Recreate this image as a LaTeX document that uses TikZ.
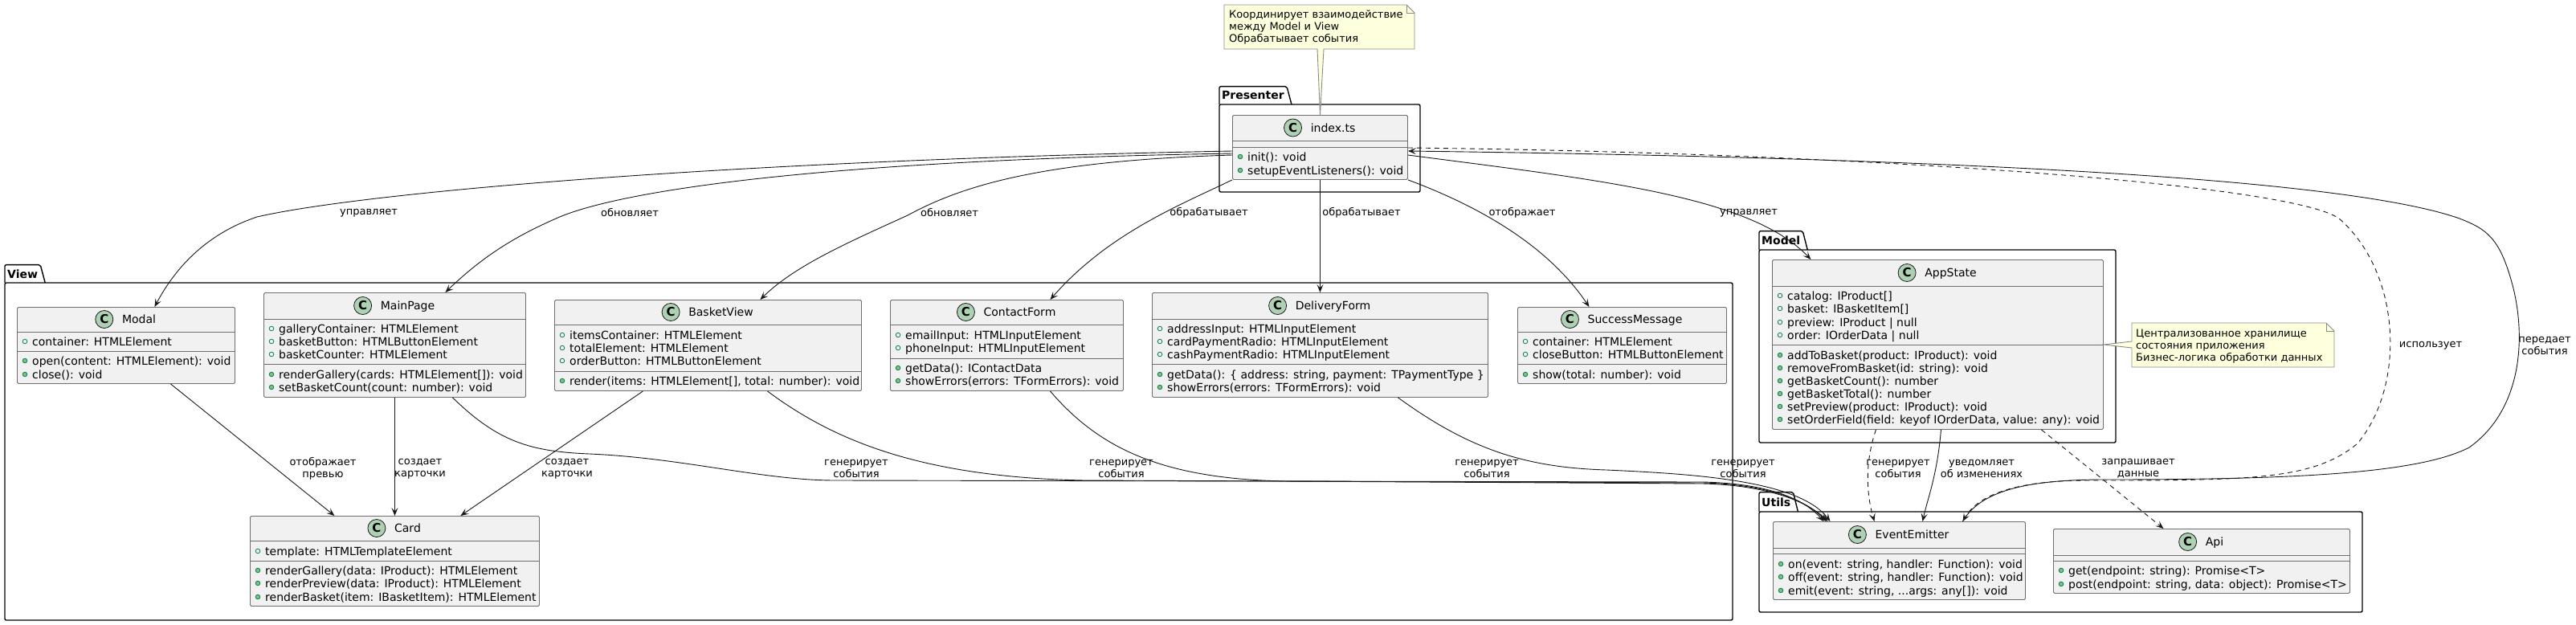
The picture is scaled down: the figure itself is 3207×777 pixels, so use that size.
\documentclass[tikz,border=0pt]{standalone}
\usepackage{fontspec}
\setmainfont{DejaVu Sans}
\usetikzlibrary{arrows.meta,calc}

\definecolor{classfill}{HTML}{F1F1F1}
\definecolor{classline}{HTML}{6E6E6E}
\definecolor{cfill}{HTML}{ADD1B2}
\definecolor{visline}{HTML}{038048}
\definecolor{visfill}{HTML}{84BE84}
\definecolor{notefill}{HTML}{FEFFDD}
\definecolor{noteline}{HTML}{8A8A8A}
\definecolor{edgecol}{HTML}{181818}

\tikzset{
  classbox/.style={draw=classline, fill=classfill, line width=0.9pt, rounded corners=1.5pt, inner sep=0pt},
  sepline/.style={draw=classline, line width=0.9pt},
  classtitle/.style={anchor=base, inner sep=0pt, font=\fontsize{14}{16}\selectfont},
  cicon/.style={circle, draw=edgecol, line width=0.8pt, fill=cfill, minimum size=22pt, inner sep=0pt, font=\fontsize{15}{15}\selectfont\bfseries},
  member/.style={anchor=base west, inner sep=0pt, font=\fontsize{14}{16}\selectfont},
  fldicon/.style={draw=visline, line width=0.8pt},
  mthicon/.style={draw=visline, fill=visfill, line width=0.8pt},
  pkglabel/.style={inner xsep=3pt, inner ysep=0pt, font=\fontsize{14}{16}\selectfont\bfseries},
  pkgline/.style={draw=black, line width=1.4pt, rounded corners=2pt},
  notebox/.style={draw=noteline, fill=notefill, line width=0.9pt},
  notetext/.style={anchor=base west, inner sep=0pt, font=\fontsize{13}{15}\selectfont},
  lbl/.style={inner sep=0pt, align=center, font=\fontsize{13}{15}\selectfont},
  edge/.style={draw=edgecol, line width=0.9pt, -{Stealth[length=10pt,width=8pt,inset=4.5pt]}},
  dsh/.style={dash pattern=on 6pt off 5pt}
}

\newcount\mcnt
\newcommand\fld[3]{\global\advance\mcnt by 1
  \draw[fldicon] (#1+10,#2) circle[radius=2.8pt];
  \node[member] (m\the\mcnt) at (#1+19,#2+5) {#3};}
\newcommand\mth[3]{\global\advance\mcnt by 1
  \draw[mthicon] (#1+10,#2) circle[radius=2.8pt];
  \node[member] (m\the\mcnt) at (#1+19,#2+5) {#3};}
\newcommand\umlclass[8]{%
  \node[classbox, anchor=north west, minimum width={#4-#2}, minimum height={#5-#3}] (#1) at (#2,#3) {};
  \draw[sepline] (#2,#7) -- (#4,#7);
  \draw[sepline] (#2,#8) -- (#4,#8);
  \node[classtitle] (#1-t) at ({(#2+#4)/2+16.5},{(#3+#7)/2+5}) {#6};
  \node[cicon] (#1-c) at ([xshift=-22pt,yshift=5pt]#1-t.base west) {C};
}
\newcommand\pkg[7]{%
  \node[pkglabel, anchor=south west, minimum height={#5-#4}] (#1) at (#3,#5) {#2};
  \draw[pkgline] (#3,#5) -- (#1.north west) -- (#1.north east) -- ([xshift=6pt]#1.south east);
  \draw[pkgline] (#3,#5) rectangle (#6,#7);
}

\begin{document}
\begin{tikzpicture}[x=1pt,y=-1pt]
\useasboundingbox (0,0) rectangle (3207,777);
\fill[white] (0,0) rectangle (3207,777);

% packages
\pkg{pView}{View}{6}{330}{352}{2157}{772}
\pkg{pPres}{Presenter}{1518}{108}{130}{1768}{239}
\pkg{pModel}{Model}{2190}{288}{311}{2634}{551}
\pkg{pUtils}{Utils}{2190}{613}{637}{2941}{762}

% Presenter
\umlclass{index}{1534}{143}{1752}{223}{index.ts}{175}{183}
\mth{1534}{195}{init(): void}
\mth{1534}{212}{setupEventListeners(): void}

% View
\umlclass{modal}{21}{382}{292}{477}{Modal}{413}{437}
\fld{21}{425}{container: HTMLElement}
\mth{21}{449}{open(content: HTMLElement): void}
\mth{21}{466}{close(): void}

\umlclass{mainpage}{328}{364}{654}{494}{MainPage}{397}{453}
\fld{328}{409}{galleryContainer: HTMLElement}
\fld{328}{425}{basketButton: HTMLButtonElement}
\fld{328}{441}{basketCounter: HTMLElement}
\mth{328}{466}{renderGallery(cards: HTMLElement[]): void}
\mth{328}{482}{setBasketCount(count: number): void}

\umlclass{card}{311}{642}{671}{754}{Card}{673}{698}
\fld{311}{686}{template: HTMLTemplateElement}
\mth{311}{710}{renderGallery(data: IProduct): HTMLElement}
\mth{311}{726}{renderPreview(data: IProduct): HTMLElement}
\mth{311}{743}{renderBasket(item: IBasketItem): HTMLElement}

\umlclass{basketview}{690}{373}{1072}{486}{BasketView}{404}{462}
\fld{690}{417}{itemsContainer: HTMLElement}
\fld{690}{433}{totalElement: HTMLElement}
\fld{690}{449}{orderButton: HTMLButtonElement}
\mth{690}{474}{render(items: HTMLElement[], total: number): void}

\umlclass{contactform}{1108}{373}{1398}{486}{ContactForm}{404}{446}
\fld{1108}{417}{emailInput: HTMLInputElement}
\fld{1108}{433}{phoneInput: HTMLInputElement}
\mth{1108}{458}{getData(): IContactData}
\mth{1108}{474}{showErrors(errors: TFormErrors): void}

\umlclass{deliveryform}{1434}{364}{1852}{494}{DeliveryForm}{397}{453}
\fld{1434}{409}{addressInput: HTMLInputElement}
\fld{1434}{425}{cardPaymentRadio: HTMLInputElement}
\fld{1434}{441}{cashPaymentRadio: HTMLInputElement}
\mth{1434}{466}{getData(): \{ address: string, payment: TPaymentType \}}
\mth{1434}{482}{showErrors(errors: TFormErrors): void}

\umlclass{successmsg}{1889}{382}{2149}{477}{SuccessMessage}{413}{453}
\fld{1889}{425}{container: HTMLElement}
\fld{1889}{441}{closeButton: HTMLButtonElement}
\mth{1889}{466}{show(total: number): void}

% Model
\umlclass{appstate}{2206}{323}{2618}{534}{AppState}{356}{429}
\fld{2206}{368}{catalog: IProduct[]}
\fld{2206}{384}{basket: IBasketItem[]}
\fld{2206}{401}{preview: IProduct | null}
\fld{2206}{417}{order: IOrderData | null}
\mth{2206}{442}{addToBasket(product: IProduct): void}
\mth{2206}{458}{removeFromBasket(id: string): void}
\mth{2206}{474}{getBasketCount(): number}
\mth{2206}{490}{getBasketTotal(): number}
\mth{2206}{506}{setPreview(product: IProduct): void}
\mth{2206}{522}{setOrderField(field: keyof IOrderData, value: any): void}

% Utils
\umlclass{ee}{2207}{649}{2521}{746}{EventEmitter}{682}{689}
\mth{2207}{702}{on(event: string, handler: Function): void}
\mth{2207}{718}{off(event: string, handler: Function): void}
\mth{2207}{735}{emit(event: string, ...args: any[]): void}

\umlclass{api}{2556}{658}{2925}{738}{Api}{691}{698}
\mth{2556}{710}{get(endpoint: string): Promise<T>}
\mth{2556}{727}{post(endpoint: string, data: object): Promise<T>}

% notes
\path[notebox] (1524,6) -- (1751,6) -- (1761,16) -- (1761,61) -- (1648,61) -- (index.north) -- (1640,61) -- (1524,61) -- cycle;
\draw[notebox, fill=none] (1751,6) -- (1751,16) -- (1761,16);
\node[notetext] (n1a) at (1530,22.5) {Координирует взаимодействие};
\node[notetext] (n1b) at (1530,37.5) {между Model и View};
\node[notetext] (n1c) at (1530,52.5) {Обрабатывает события};

\path[notebox] (2654,402) -- (2896,402) -- (2906,412) -- (2906,457) -- (2654,457) -- (2654,433) -- ([yshift=-106pt]appstate.north east) -- (2654,425) -- cycle;
\draw[notebox, fill=none] (2896,402) -- (2896,412) -- (2906,412);
\node[notetext] (n2a) at (2659,419.5) {Централизованное хранилище};
\node[notetext] (n2b) at (2659,434.5) {состояния приложения};
\node[notetext] (n2c) at (2659,449.5) {Бизнес-логика обработки данных};

% edges from Presenter
\draw[edge] ([yshift=-45pt]index.north west) .. controls (900,200) and (450,240) .. (320,270) .. controls (260,290) and (220,330) .. ([xshift=35.5pt]modal.north);
\draw[edge] ([yshift=-48pt]index.north west) .. controls (1000,200) and (760,240) .. (690,273) .. controls (640,295) and (600,320) .. ([xshift=63pt]mainpage.north);
\draw[edge] ([yshift=-50pt]index.north west) .. controls (1300,200) and (1200,230) .. (1130,268) .. controls (1060,300) and (990,330) .. ([xshift=65pt]basketview.north);
\draw[edge] (index.south west) .. controls (1470,255) and (1380,290) .. ([xshift=54pt]contactform.north);
\draw[edge] (index.south) -- (deliveryform.north);
\draw[edge] (index.south east) .. controls (1850,260) and (1930,310) .. ([xshift=-41pt]successmsg.north);
\draw[edge] ([yshift=-50pt]index.north east) .. controls (2000,225) and (2180,245) .. ([xshift=-158pt]appstate.north);

% View internal
\draw[edge] ([xshift=55.5pt]modal.south) -- ([xshift=-75pt]card.north);
\draw[edge] (mainpage.south) -- (card.north);
\draw[edge] ([xshift=-81pt]basketview.south) -- ([xshift=82pt]card.north);

% View -> EventEmitter
\draw[edge] ([xshift=72pt]mainpage.south) .. controls (620,550) and (660,562) .. (734,565) .. controls (850,570) and (950,598) .. (1040,598) -- (2120,600) .. controls (2200,602) and (2245,620) .. ([xshift=-94pt]ee.north);
\draw[edge] ([xshift=74pt]basketview.south) .. controls (1040,550) and (1150,594) .. (1350,598) -- (2120,601) .. controls (2200,603) and (2248,622) .. ([xshift=-91pt]ee.north);
\draw[edge] ([xshift=54pt]contactform.south) .. controls (1370,560) and (1450,596) .. (1600,599) -- (2120,602) .. controls (2200,604) and (2250,624) .. ([xshift=-89pt]ee.north);
\draw[edge] ([xshift=97pt]deliveryform.south) .. controls (1830,560) and (1900,582) .. (2000,585) .. controls (2110,590) and (2240,598) .. ([xshift=-86pt]ee.north);

% Model -> Utils
\draw[edge, dsh] ([xshift=-77pt]appstate.south) .. controls (2320,580) and (2325,620) .. ([xshift=-31pt]ee.north);
\draw[edge] ([xshift=4pt]appstate.south) .. controls (2412,590) and (2400,620) .. ([xshift=29pt]ee.north);
\draw[edge, dsh] ([xshift=129pt]appstate.south) -- ([xshift=-47.5pt]api.north);

% Presenter <-> EventEmitter
\draw[edge, dsh] ([yshift=-41pt]index.north east) .. controls (2300,190) and (2850,228) .. (2912,272) .. controls (2990,340) and (2995,480) .. (2935,552) .. controls (2880,598) and (2800,598) .. (2600,598) .. controls (2500,598) and (2460,620) .. ([xshift=79pt]ee.north);
\draw[edge] ([xshift=79pt]ee.north) .. controls (2465,612) and (2520,597) .. (2620,597) .. controls (2850,597) and (3010,590) .. (3074,557) .. controls (3140,510) and (3145,420) .. (3128,355) .. controls (3112,295) and (3095,285) .. (3062,272) .. controls (2900,215) and (2300,195) .. ([yshift=-45pt]index.north east);

% labels
\node[lbl] (l1) at (459,265) {управляет};
\node[lbl] (l2) at (784,265) {обновляет};
\node[lbl] (l3) at (1182,265) {обновляет};
\node[lbl] (l4) at (1505,265) {обрабатывает};
\node[lbl] (l5) at (1695,265) {обрабатывает};
\node[lbl] (l6) at (1895,265) {отображает};
\node[lbl] (l7) at (2177,265) {управляет};
\node[lbl] (l8) at (402,583.5) {отображает\\превью};
\node[lbl] (l9) at (523,583.5) {создает\\карточки};
\node[lbl] (l10) at (706,583.5) {создает\\карточки};
\node[lbl] (l11) at (1066,583.5) {генерирует\\события};
\node[lbl] (l12) at (1396,583.5) {генерирует\\события};
\node[lbl] (l13) at (1851,583.5) {генерирует\\события};
\node[lbl] (l14) at (2170,583.5) {генерирует\\события};
\node[lbl] (l15) at (2363,583.5) {генерирует\\события};
\node[lbl] (l16) at (2467,583.5) {уведомляет\\об изменениях};
\node[lbl] (l17) at (2662,583.5) {запрашивает\\данные};
\node[lbl] (l18) at (3026,430) {использует};
\node[lbl] (l19) at (3168,430.5) {передает\\события};
\end{tikzpicture}
\end{document}
